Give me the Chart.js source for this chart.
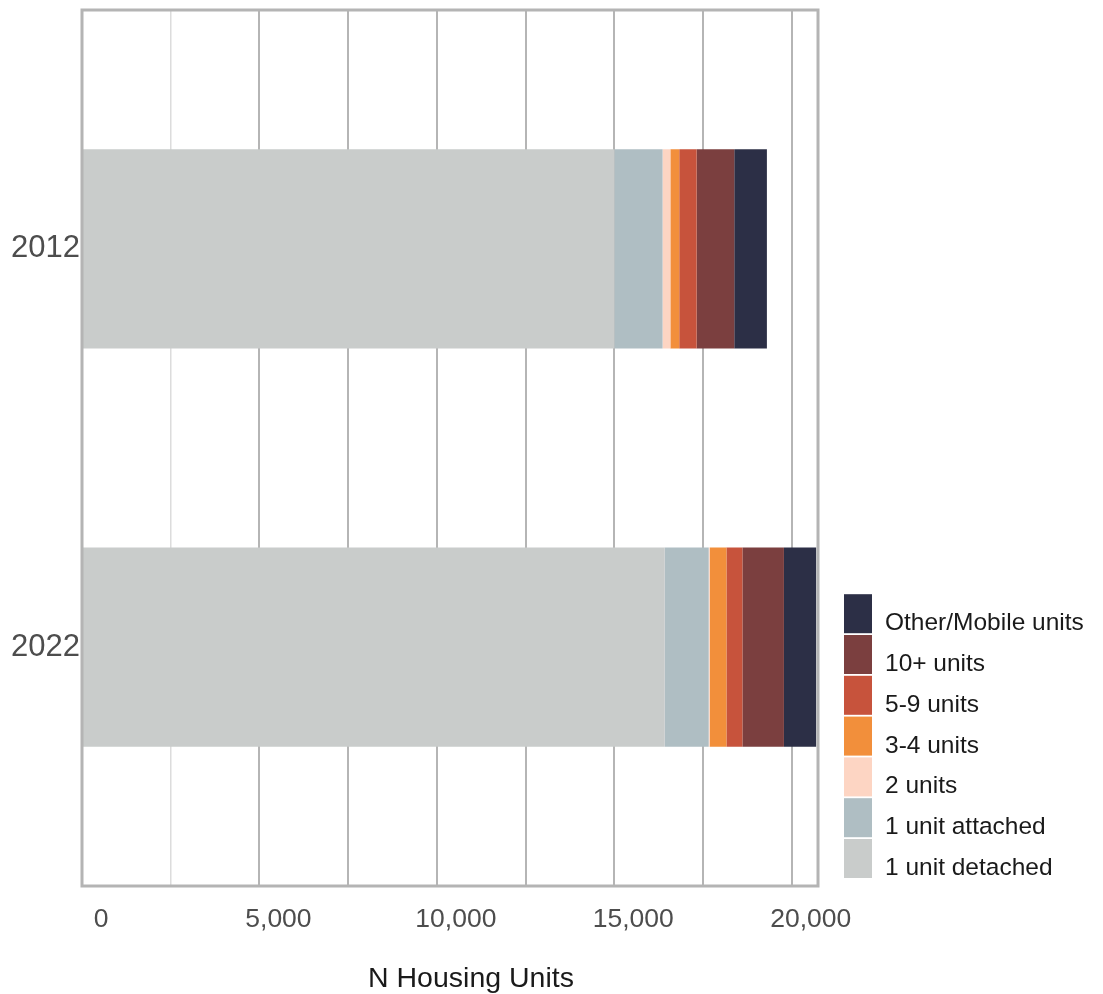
<!DOCTYPE html>
<html>
<head>
<meta charset="utf-8">
<script src="https://cdn.jsdelivr.net/npm/chart.js@4/dist/chart.umd.min.js"></script>
<style>
  html, body { margin: 0; padding: 0; background: #ffffff; }
  #wrap { width: 1103px; height: 994px; }
</style>
</head>
<body>
<div id="wrap"><canvas id="c" width="1103" height="994"></canvas></div>
<script>
// Housing units by structure type, two survey years
const years = ['2012', '2022'];
const seriesNames = ['1 unit detached', '1 unit attached', '2 units', '3-4 units', '5-9 units', '10+ units', 'Other/Mobile units'];
const detached    = [15000, 16420];
const attached    = [1360, 1240];
const twoUnits    = [220, 30];
const threeFour   = [250, 470];
const fiveNine    = [490, 450];
const tenPlus     = [1060, 1170];
const otherMobile = [920, 910];
const xTicks = [0, 2500, 5000, 7500, 10000, 12500, 15000, 17500, 20000];
const xLabelled = [0, 5000, 10000, 15000, 20000];
const xMax = 20740;

const seriesValues = [detached, attached, twoUnits, threeFour, fiveNine, tenPlus, otherMobile];
const seriesColors = ['#c9cccb', '#afbec3', '#fdd5c3', '#f28f3b', '#c7533c', '#7b3f3f', '#2c2f46'];

const narrow = "'Liberation Sans Narrow', 'Arial Narrow', 'Liberation Sans', Arial, sans-serif";
const regular = "'Liberation Sans', Arial, sans-serif";

// Frame around the plotting area
const framePlugin = {
  id: 'frame',
  afterDatasetsDraw(chart) {
    const a = chart.chartArea, ctx = chart.ctx;
    ctx.save();
    ctx.strokeStyle = '#b4b4b4';
    ctx.lineWidth = 3;
    ctx.strokeRect(a.left, a.top, a.right - a.left, a.bottom - a.top);
    ctx.restore();
  }
};

// Stacked legend to the right, bottom-aligned with the plot
const sideLegend = {
  id: 'sideLegend',
  afterDraw(chart) {
    const a = chart.chartArea, ctx = chart.ctx;
    const ds = chart.data.datasets;
    const pitch = 40.8, boxW = 28, boxH = 39;
    const x = a.right + 26;
    const top = a.bottom - 8 - ds.length * pitch + (pitch - boxH);
    ctx.save();
    ctx.font = '24.5px ' + regular;
    ctx.textBaseline = 'alphabetic';
    ctx.textAlign = 'left';
    ds.slice().reverse().forEach((d, k) => {
      const y = top + k * pitch;
      ctx.fillStyle = d.backgroundColor;
      ctx.fillRect(x, y, boxW, boxH);
      ctx.fillStyle = '#1a1a1a';
      ctx.fillText(d.label, x + boxW + 13, y + 36);
    });
    ctx.restore();
  }
};

// Horizontal axis title
const xTitle = {
  id: 'xTitle',
  afterDraw(chart) {
    const a = chart.chartArea, ctx = chart.ctx;
    ctx.save();
    ctx.font = '28.5px ' + regular;
    ctx.fillStyle = '#1a1a1a';
    ctx.textAlign = 'center';
    ctx.textBaseline = 'alphabetic';
    ctx.fillText('N Housing Units', (a.left + a.right) / 2 + 21, a.bottom + 101);
    ctx.restore();
  }
};

const datasets = seriesNames.map((name, s) => ({
  label: name,
  data: seriesValues[s].map((v, i) => ({ x: v, y: i + 1 })),
  backgroundColor: seriesColors[s],
  borderWidth: 0,
  stack: 'units',
  categoryPercentage: 0.5,
  barPercentage: 1.0
}));

new Chart(document.getElementById('c'), {
  type: 'bar',
  data: { datasets },
  options: {
    indexAxis: 'y',
    responsive: false,
    animation: false,
    devicePixelRatio: 1,
    layout: { padding: { top: 10, right: 285, left: 0, bottom: 0 } },
    plugins: { legend: { display: false }, tooltip: { enabled: false } },
    scales: {
      x: {
        type: 'linear',
        stacked: true,
        offset: false,
        min: 0,
        max: xMax,
        afterBuildTicks: (s) => { s.ticks = xTicks.map(v => ({ value: v })); },
        afterFit: (s) => { s.height = 108; s.paddingLeft = 0; s.paddingRight = 0; },
        grid: {
          drawTicks: false,
          offset: false,
          color: (c) => (c.tick && c.tick.value === 2500) ? '#dcdcdc' : '#b5b5b5',
          lineWidth: (c) => (c.tick && c.tick.value === 2500) ? 1.5 : 2
        },
        border: { display: false },
        ticks: {
          autoSkip: false,
          maxRotation: 0,
          padding: 18,
          labelOffset: 19,
          color: '#4d4d4d',
          font: { family: narrow, size: 26.5 },
          callback: (v) => xLabelled.includes(v) ? v.toLocaleString('en-US') : ''
        }
      },
      y: {
        type: 'linear',
        offset: false,
        reverse: true,
        min: 0.4,
        max: 2.6,
        afterBuildTicks: (s) => { s.ticks = years.map((_, i) => ({ value: i + 1 })); },
        afterFit: (s) => { s.width = 82; s.paddingTop = 0; s.paddingBottom = 0; },
        grid: { display: false, drawTicks: false, offset: false },
        border: { display: false },
        ticks: {
          autoSkip: false,
          padding: 2,
          color: '#4d4d4d',
          font: { family: narrow, size: 31 },
          callback: (v) => years[v - 1] ?? ''
        }
      }
    }
  },
  plugins: [framePlugin, sideLegend, xTitle]
});
</script>
</body>
</html>
